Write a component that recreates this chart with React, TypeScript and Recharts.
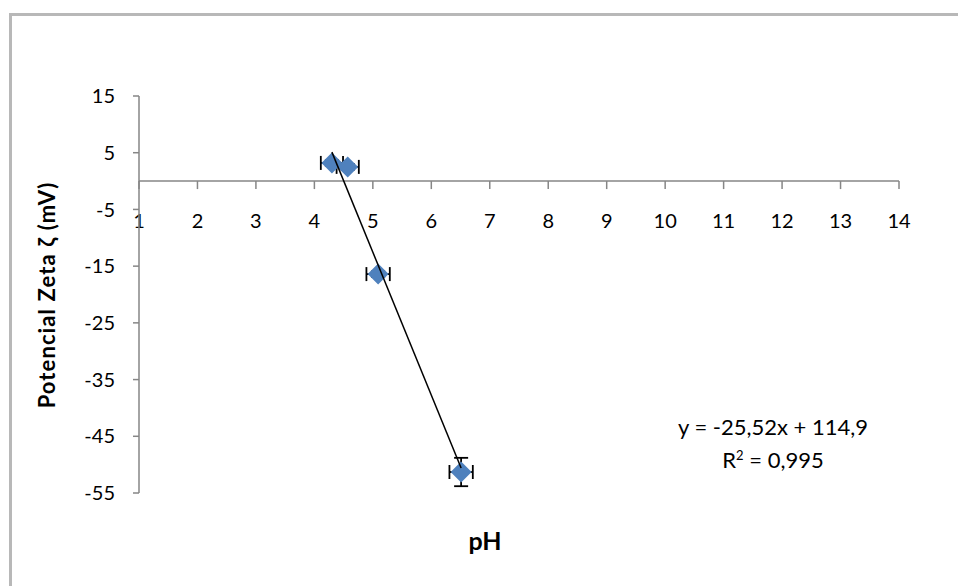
import React from 'react'
import { ScatterChart, Scatter, XAxis, YAxis, ErrorBar, ReferenceLine } from 'recharts'

// measured points: pH vs zeta potential (mV)
const phValues = [4.3, 4.57, 5.09, 6.51]
const zetaValues = [3.2, 2.5, -16.4, -51.3]
const phErrors = [0.19, 0.19, 0.2, 0.2]
const zetaErrors = [0.5, 0.5, 0.5, 2.5]

// linear trendline endpoints as drawn
const trendX = [4.3, 6.51]
const trendY = [5.1, -50.6]

const xDomain = [1, 14]
const xTicks = [1, 2, 3, 4, 5, 6, 7, 8, 9, 10, 11, 12, 13, 14]
const yTicks = [15, 5, -5, -15, -25, -35, -45, -55]

const points = phValues.map((x, i) => ({ x, y: zetaValues[i], ex: phErrors[i], ey: zetaErrors[i] }))
const trend = trendX.map((x, i) => ({ x, y: trendY[i] }))

const FONT = 'Lato, "Open Sans", sans-serif'
const AXIS = '#868686'

const Diamond = (props: any) => {
  const { cx, cy } = props
  const r = 10.5
  return <polygon points={`${cx},${cy - r} ${cx + r},${cy} ${cx},${cy + r} ${cx - r},${cy}`} fill="#4F81BD" />
}

const NoDot = () => <g />

// x axis crossing the y axis at zero
const ZeroAxis = (props: any) => {
  const { x1, x2, y1 } = props
  const span = xDomain[1] - xDomain[0]
  return (
    <g>
      <line x1={x1} x2={x2} y1={y1} y2={y1} stroke={AXIS} strokeWidth={1.5} />
      {xTicks.map(t => {
        const x = x1 + ((t - xDomain[0]) / span) * (x2 - x1)
        return (
          <g key={t}>
            <line x1={x} x2={x} y1={y1} y2={y1 + 8} stroke={AXIS} strokeWidth={1.5} />
            <text x={x} y={y1 + 42} textAnchor="middle" dominantBaseline="middle" fontSize={20} fontFamily={FONT} fill="#000">
              {t}
            </text>
          </g>
        )
      })}
    </g>
  )
}

export default function App() {
  return (
    <div style={{ position: 'absolute', left: 0, top: 0, width: 958, height: 586, background: '#fff', overflow: 'hidden' }}>
      <div style={{ position: 'absolute', left: 9, top: 13, width: 960, height: 590, borderLeft: '3px solid #b8b8b8', borderTop: '3px solid #b8b8b8' }} />
      <ScatterChart width={958} height={586} margin={{ top: 96, right: 59, bottom: 93, left: 0 }}>
        <XAxis type="number" dataKey="x" domain={xDomain} ticks={xTicks} hide />
        <YAxis
          type="number"
          dataKey="y"
          domain={[-55, 15]}
          ticks={yTicks}
          width={139}
          axisLine={{ stroke: AXIS, strokeWidth: 1.5 }}
          tickLine={{ stroke: AXIS, strokeWidth: 1.5 }}
          tickSize={6}
          tickMargin={18}
          tick={{ fontSize: 20, fontFamily: FONT, fill: '#000' }}
          interval={0}
        />
        <ReferenceLine y={0} shape={ZeroAxis} />
        <Scatter data={points} shape={Diamond} isAnimationActive={false}>
          <ErrorBar dataKey="ex" direction="x" stroke="#000" strokeWidth={1.8} width={7} />
          <ErrorBar dataKey="ey" direction="y" stroke="#000" strokeWidth={1.8} width={7} />
        </Scatter>
        <Scatter data={trend} shape={NoDot} line={{ stroke: '#000', strokeWidth: 1.5 }} isAnimationActive={false} />
      </ScatterChart>
      <div style={{ position: 'absolute', left: 46, top: 295, transform: 'translate(-50%, -50%) rotate(-90deg)', fontFamily: FONT, fontWeight: 700, fontSize: 22, letterSpacing: 1.1, whiteSpace: 'nowrap' }}>
        Potencial Zeta ζ (mV)
      </div>
      <div style={{ position: 'absolute', left: 485, top: 540, transform: 'translate(-50%, -50%)', fontFamily: FONT, fontWeight: 700, fontSize: 25, whiteSpace: 'nowrap' }}>
        pH
      </div>
      <div style={{ position: 'absolute', left: 773, top: 426, transform: 'translate(-50%, -50%)', fontFamily: FONT, fontSize: 22, whiteSpace: 'nowrap' }}>
        y = -25,52x + 114,9
      </div>
      <div style={{ position: 'absolute', left: 773, top: 460, transform: 'translate(-50%, -50%)', fontFamily: FONT, fontSize: 22, lineHeight: '26px', whiteSpace: 'nowrap' }}>
        R<sup style={{ fontSize: 13, lineHeight: 0 }}>2</sup> = 0,995
      </div>
    </div>
  )
}
